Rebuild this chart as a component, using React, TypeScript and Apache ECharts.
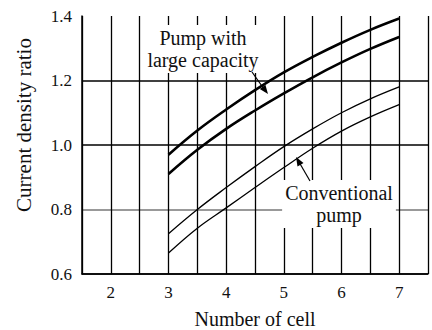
import React, { useEffect, useRef } from "react";
import * as echarts from "echarts";

const cells = [3, 3.5, 4, 4.5, 5, 5.5, 6, 6.5, 7];
const largeUpper = [0.97, 1.045, 1.11, 1.17, 1.225, 1.273, 1.317, 1.357, 1.392];
const largeLower = [0.91, 0.985, 1.05, 1.107, 1.16, 1.21, 1.256, 1.298, 1.335];
const convUpper = [0.725, 0.8, 0.868, 0.933, 0.995, 1.05, 1.1, 1.143, 1.18];
const convLower = [0.665, 0.742, 0.805, 0.868, 0.93, 0.99, 1.043, 1.087, 1.125];

const FONT = "Liberation Serif";

function pairs(ys: number[]) {
  return cells.map((x, i) => [x, ys[i]]);
}

export default function App() {
  const ref = useRef<HTMLDivElement>(null);
  useEffect(() => {
    if (!ref.current) return;
    const chart = echarts.init(ref.current, null, { renderer: "svg" });
    const lineSeries = (name: string, ys: number[], width: number) => ({
      name,
      type: "line",
      data: pairs(ys),
      smooth: 0.4,
      showSymbol: false,
      symbol: "none",
      lineStyle: { color: "#000", width },
      z: 3,
    });
    const annot = (text: string, left: number, top: number) => ({
      text,
      left,
      top,
      textAlign: "center",
      z: 8,
      backgroundColor: "#fff",
      padding: [2, 3],
      itemGap: 0,
      textStyle: {
        fontFamily: FONT,
        fontSize: 20,
        fontWeight: "normal",
        lineHeight: 22,
        color: "#111",
      },
    });
    chart.setOption({
      animation: false,
      backgroundColor: "#fff",
      title: [
        annot("Pump with\nlarge capacity", 200, 25),
        annot("Conventional\npump", 336, 180),
      ],
      grid: { left: 82, right: 4, top: 16, bottom: 56, outerBoundsMode: "none", containLabel: false },
      xAxis: {
        type: "value",
        min: 1.5,
        max: 7.5,
        interval: 0.5,
        name: "Number of cell",
        nameLocation: "middle",
        nameGap: 35,
        nameTextStyle: { fontFamily: FONT, fontSize: 20, color: "#111" },
        axisLine: { show: true, lineStyle: { color: "#000", width: 1.5 } },
        axisTick: { show: false },
        axisLabel: {
          fontFamily: FONT,
          fontSize: 17,
          color: "#111",
          margin: 10,
          formatter: (v: number) => (Number.isInteger(v) ? String(v) : ""),
        },
        splitLine: { show: true, lineStyle: { color: "#000", width: 1.3 } },
      },
      yAxis: {
        type: "value",
        min: 0.6,
        max: 1.4,
        interval: 0.2,
        name: "Current density ratio",
        nameLocation: "middle",
        nameGap: 48,
        nameRotate: 90,
        nameTextStyle: { fontFamily: FONT, fontSize: 21, color: "#111", padding: [0, 0, 0, 40] },
        axisLine: { show: true, lineStyle: { color: "#000", width: 1.5 } },
        axisTick: { show: false },
        axisLabel: {
          fontFamily: FONT,
          fontSize: 17,
          color: "#111",
          margin: 10,
          formatter: (v: number) => v.toFixed(1),
        },
        splitLine: {
          show: true,
          lineStyle: { color: ["#000", "#777", "#000", "#000", "#fff"], width: 1.5 },
        },
      },
      series: [
        lineSeries("Pump with large capacity (upper)", largeUpper, 2.6),
        lineSeries("Pump with large capacity (lower)", largeLower, 2.6),
        lineSeries("Conventional pump (upper)", convUpper, 1.3),
        lineSeries("Conventional pump (lower)", convLower, 1.3),
      ],
      graphic: [
        {
          type: "line",
          z: 10,
          shape: { x1: 252, y1: 72, x2: 264, y2: 89 },
          style: { stroke: "#000", lineWidth: 1.2 },
        },
        {
          type: "polygon",
          z: 10,
          shape: { points: [[268, 94], [259.8, 88.9], [265.4, 84.7]] },
          style: { fill: "#000" },
        },
        {
          type: "line",
          z: 10,
          shape: { x1: 310, y1: 181, x2: 299, y2: 162 },
          style: { stroke: "#000", lineWidth: 1.2 },
        },
        {
          type: "polygon",
          z: 10,
          shape: { points: [[296, 157], [303.5, 163.0], [297.5, 166.6]] },
          style: { fill: "#000" },
        },
      ],
    });
    return () => chart.dispose();
  }, []);
  return <div ref={ref} style={{ width: 432, height: 330, position: "absolute", left: 0, top: 0 }} />;
}
